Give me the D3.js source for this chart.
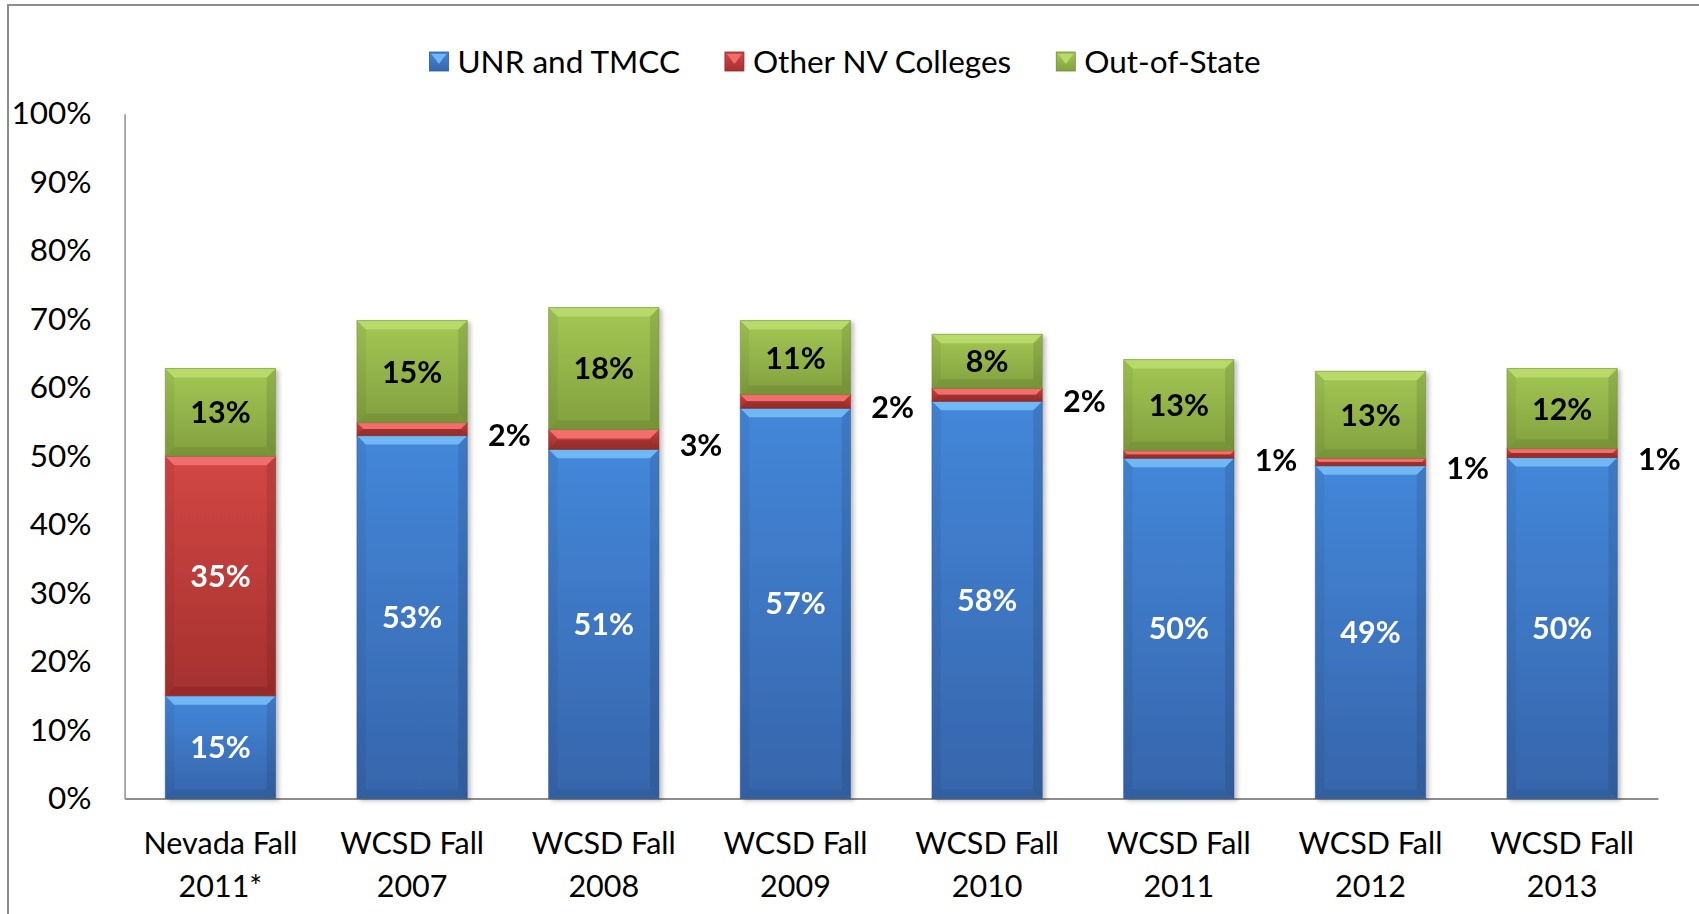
<!DOCTYPE html>
<html>
<head>
<meta charset="utf-8">
<script src="https://cdn.jsdelivr.net/npm/d3@7"></script>
<style>
  body { margin: 0; background: #fff; }
  svg { display: block; font-family: Lato, "Noto Sans", sans-serif; }
</style>
</head>
<body>
<div id="chart"></div>
<script>
// categories (two lines each)
const categories = ["Nevada Fall|2011*", "WCSD Fall|2007", "WCSD Fall|2008", "WCSD Fall|2009",
                    "WCSD Fall|2010", "WCSD Fall|2011", "WCSD Fall|2012", "WCSD Fall|2013"];
// series values (percent)
const unrTmcc    = [15.0, 53.0, 51.0, 57.0, 58.0, 49.7, 48.6, 49.8];
const otherNv    = [35.0, 1.9, 2.9, 2.0, 1.9, 1.1, 1.1, 1.3];
const outOfState = [12.8, 14.9, 17.8, 10.8, 7.9, 13.3, 12.7, 11.7];
const seriesNames = ["UNR and TMCC", "Other NV Colleges", "Out-of-State"];
const yTicks = [0, 10, 20, 30, 40, 50, 60, 70, 80, 90, 100];

const width = 1699, height = 914;
const plot = { left: 124.6, right: 1658, top: 113.8, bottom: 798.5 };

// couleurs : haut, bas, biseau clair, biseau sombre
const palette = [
  { top: "#4487d9", bottom: "#3665ab", light: "#6fb8f4", dark: "#305a98", text: "#fff" },
  { top: "#d24745", bottom: "#a5312f", light: "#f26e6c", dark: "#8a2826", text: "#fff" },
  { top: "#a3c755", bottom: "#82a03e", light: "#b7da6a", dark: "#6f8a34", text: "#000" }
];

const svg = d3.select("#chart").append("svg")
    .attr("width", width)
    .attr("height", height);

const defs = svg.append("defs");
palette.forEach((p, i) => {
  const g = defs.append("linearGradient")
      .attr("id", "grad" + i)
      .attr("x1", 0).attr("y1", 0).attr("x2", 0).attr("y2", 1);
  g.append("stop").attr("offset", "0%").attr("stop-color", p.top);
  g.append("stop").attr("offset", "100%").attr("stop-color", p.bottom);
});
const shadow = defs.append("filter").attr("id", "shadow")
    .attr("x", "-10%").attr("y", "-10%").attr("width", "130%").attr("height", "130%");
shadow.append("feDropShadow")
    .attr("dx", 3).attr("dy", 2).attr("stdDeviation", 2)
    .attr("flood-color", "#000").attr("flood-opacity", 0.25);

// cadre
svg.append("rect")
    .attr("x", 8).attr("y", 5)
    .attr("width", 1760).attr("height", 1000)
    .attr("fill", "none")
    .attr("stroke", "#8d8d8d")
    .attr("stroke-width", 2);

// Échelles
const x = d3.scaleBand()
    .domain(categories)
    .range([plot.left, plot.right])
    .paddingInner(0.424)
    .paddingOuter(0.212);

const y = d3.scaleLinear()
    .domain([0, 100])
    .range([plot.bottom, plot.top]);

// Axe Y
const yAxis = svg.append("g")
    .attr("transform", "translate(" + plot.left + ",0)")
    .call(d3.axisLeft(y).tickValues(yTicks).tickSize(0).tickPadding(33).tickFormat(d => d + "%"));
yAxis.select(".domain").attr("stroke", "#8d8d8d").attr("stroke-width", 1.5);
yAxis.selectAll("text")
    .attr("font-family", "Lato, 'Noto Sans', sans-serif")
    .attr("font-size", 31.5)
    .attr("fill", "#000");

// Axe X
const xAxis = svg.append("g")
    .attr("transform", "translate(0," + plot.bottom + ")")
    .call(d3.axisBottom(x).tickSize(0).tickFormat(""));
xAxis.select(".domain").attr("stroke", "#8d8d8d").attr("stroke-width", 2);

const catLabels = svg.append("g").selectAll("text")
    .data(categories)
    .enter().append("text")
    .attr("x", d => x(d) + x.bandwidth() / 2)
    .attr("y", 854)
    .attr("text-anchor", "middle")
    .attr("font-size", 30.5)
    .attr("fill", "#000");
catLabels.each(function (d) {
  const parts = d.split("|");
  d3.select(this).selectAll("tspan")
      .data(parts)
      .enter().append("tspan")
      .attr("x", x(d) + x.bandwidth() / 2)
      .attr("dy", (p, i) => i === 0 ? 0 : 43)
      .text(p => p);
});

// Données empilées
const table = categories.map((c, i) => ({
  cat: c, s0: unrTmcc[i], s1: otherNv[i], s2: outOfState[i]
}));
const stack = d3.stack().keys(["s0", "s1", "s2"])(table);

function bevel(g, x0, y0, w, h, p) {
  const b = Math.min(9, h / 2);
  g.append("rect").attr("x", x0).attr("y", y0).attr("width", w).attr("height", h)
      .attr("fill", "url(#grad" + p.idx + ")");
  const pts = (arr) => arr.map(a => a.join(",")).join(" ");
  // côté gauche / droit
  g.append("polygon").attr("points", pts([[x0, y0], [x0 + b, y0 + b], [x0 + b, y0 + h - b], [x0, y0 + h]]))
      .attr("fill", "#000").attr("opacity", 0.05);
  g.append("polygon").attr("points", pts([[x0 + w, y0], [x0 + w - b, y0 + b], [x0 + w - b, y0 + h - b], [x0 + w, y0 + h]]))
      .attr("fill", "#000").attr("opacity", 0.1);
  // biseau haut
  g.append("polygon").attr("points", pts([[x0, y0], [x0 + w, y0], [x0 + w - b, y0 + b], [x0 + b, y0 + b]]))
      .attr("fill", p.light);
  // biseau bas
  g.append("polygon").attr("points", pts([[x0, y0 + h], [x0 + w, y0 + h], [x0 + w - b, y0 + h - b], [x0 + b, y0 + h - b]]))
      .attr("fill", p.dark).attr("opacity", 0.55);
  g.append("rect").attr("x", x0).attr("y", y0).attr("width", w).attr("height", h)
      .attr("fill", "none").attr("stroke", p.dark).attr("stroke-opacity", 0.5).attr("stroke-width", 1);
}

const barsG = svg.append("g").attr("filter", "url(#shadow)");
stack.forEach((layer, si) => {
  const p = Object.assign({ idx: si }, palette[si]);
  layer.forEach((d) => {
    const x0 = x(d.data.cat);
    const y0 = y(d[1]);
    const h = y(d[0]) - y(d[1]);
    bevel(barsG.append("g"), x0, y0, x.bandwidth(), h, p);
  });
});

// Étiquettes de valeurs
const labelsG = svg.append("g")
    .attr("font-size", 30.5)
    .attr("font-weight", "bold");
stack.forEach((layer, si) => {
  layer.forEach((d) => {
    const v = d[1] - d[0];
    const cx = x(d.data.cat) + x.bandwidth() / 2;
    const cy = (y(d[0]) + y(d[1])) / 2;
    const small = v < 5;
    labelsG.append("text")
        .attr("x", small ? x(d.data.cat) + x.bandwidth() + 42 : cx)
        .attr("y", small ? cy + 6 : cy)
        .attr("dy", "0.36em")
        .attr("text-anchor", "middle")
        .attr("fill", small ? "#000" : palette[si].text)
        .text(Math.round(v) + "%");
  });
});

// Légende
const legend = svg.append("g").attr("transform", "translate(0,62)");
const items = legend.selectAll("g")
    .data(seriesNames)
    .enter().append("g");
items.append("rect")
    .attr("width", 19).attr("height", 19).attr("y", -10)
    .attr("fill", (d, i) => "url(#grad" + i + ")")
    .attr("stroke", (d, i) => palette[i].dark).attr("stroke-width", 0.8);
items.append("polygon")
    .attr("points", "2,-8 17,-8 9.5,2")
    .attr("fill", (d, i) => palette[i].light);
items.append("text")
    .attr("x", 28)
    .attr("dy", "0.35em")
    .attr("font-size", 31.5)
    .attr("fill", "#000")
    .text(d => d);
let cursor = 0;
const widths = [];
items.each(function () {
  const w = this.getBBox().width;
  widths.push(w);
});
const totalW = d3.sum(widths) + 45 * (widths.length - 1);
cursor = 845 - totalW / 2;
items.attr("transform", function (d, i) {
  const t = "translate(" + cursor + ",0)";
  cursor += widths[i] + 45;
  return t;
});
</script>
</body>
</html>
